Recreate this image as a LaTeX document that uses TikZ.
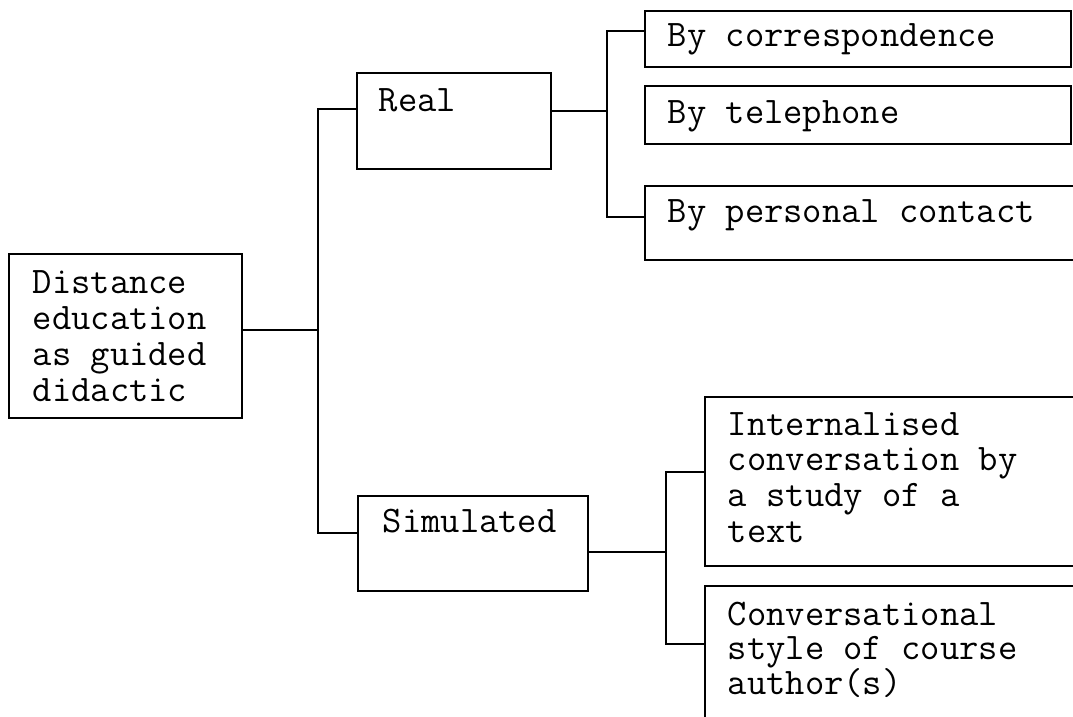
\documentclass[tikz,border=0pt]{standalone}
\usepackage{fontspec}
\newcommand\linestack[2]{\vtop{\baselineskip=#1\lineskiplimit=-100pt #2}}
\begin{document}
\begin{tikzpicture}[x=1pt,y=-1pt,line width=1.6pt,
    box/.style={draw,rectangle,anchor=north west,inner sep=0pt,outer sep=0pt},
    lbl/.style={anchor=base west,inner sep=0pt,font=\ttfamily\fontsize{37.5pt}{36pt}\selectfont}]
  \useasboundingbox (0,0) rectangle (1073,717);
  \clip (0,0) rectangle (1073,717);

  % boxes
  \node[box,minimum width=233pt,minimum height=164pt] (root) at (9,254) {};
  \node[box,minimum width=194pt,minimum height=96pt]  (real) at (357,73) {};
  \node[box,minimum width=230pt,minimum height=95pt]  (sim)  at (358,496) {};
  \node[box,minimum width=426pt,minimum height=56pt]  (corr) at (645,11) {};
  \node[box,minimum width=426pt,minimum height=58pt]  (tel)  at (645,86) {};
  \node[box,minimum width=440pt,minimum height=74pt]  (pers) at (645,186) {};
  \node[box,minimum width=380pt,minimum height=169pt] (intl) at (705,397) {};
  \node[box,minimum width=380pt,minimum height=150pt] (conv) at (705,586) {};

  % texts
  \node[lbl] (root-t) at (32,293) {\linestack{36.3pt}{\hbox{Distance}\hbox{education}\hbox{as guided}\hbox{didactic}}};
  \node[lbl] (real-t) at (378,111) {Real};
  \node[lbl] (sim-t)  at (382,532) {Simulated};
  \node[lbl] (corr-t) at (667,47)  {By correspondence};
  \node[lbl] (tel-t)  at (667,123) {By telephone};
  \node[lbl] (pers-t) at (667,222) {By personal contact};
  \node[lbl] (intl-t) at (727,435) {\linestack{35.7pt}{\hbox{Internalised}\hbox{conversation by}\hbox{a study of a}\hbox{text}}};
  \node[lbl] (conv-t) at (727,625) {\linestack{34.5pt}{\hbox{Conversational}\hbox{style of course}\hbox{author(s)}}};

  % junction points of the tree
  \coordinate (t1) at (318,109);
  \coordinate (t2) at (318,533);
  \coordinate (r1) at (607,31);
  \coordinate (r2) at (607,217);
  \coordinate (s1) at (666,472);
  \coordinate (s2) at (666,644);
  \coordinate (rootout) at ([yshift=6pt]root.east);
  \coordinate (realout) at ([yshift=10pt]real.east);
  \coordinate (simout)  at ([yshift=-8.5pt]sim.east);

  % connectors
  \draw (rootout) -- (rootout -| t1);
  \draw (real.west |- t1) -- (t1) -- (t2) -- (sim.west |- t2);
  \draw (realout) -- (realout -| r1);
  \draw (corr.west |- r1) -- (r1) -- (r2) -- (pers.west |- r2);
  \draw (simout) -- (simout -| s1);
  \draw (intl.west |- s1) -- (s1) -- (s2) -- (conv.west |- s2);
\end{tikzpicture}
\end{document}
